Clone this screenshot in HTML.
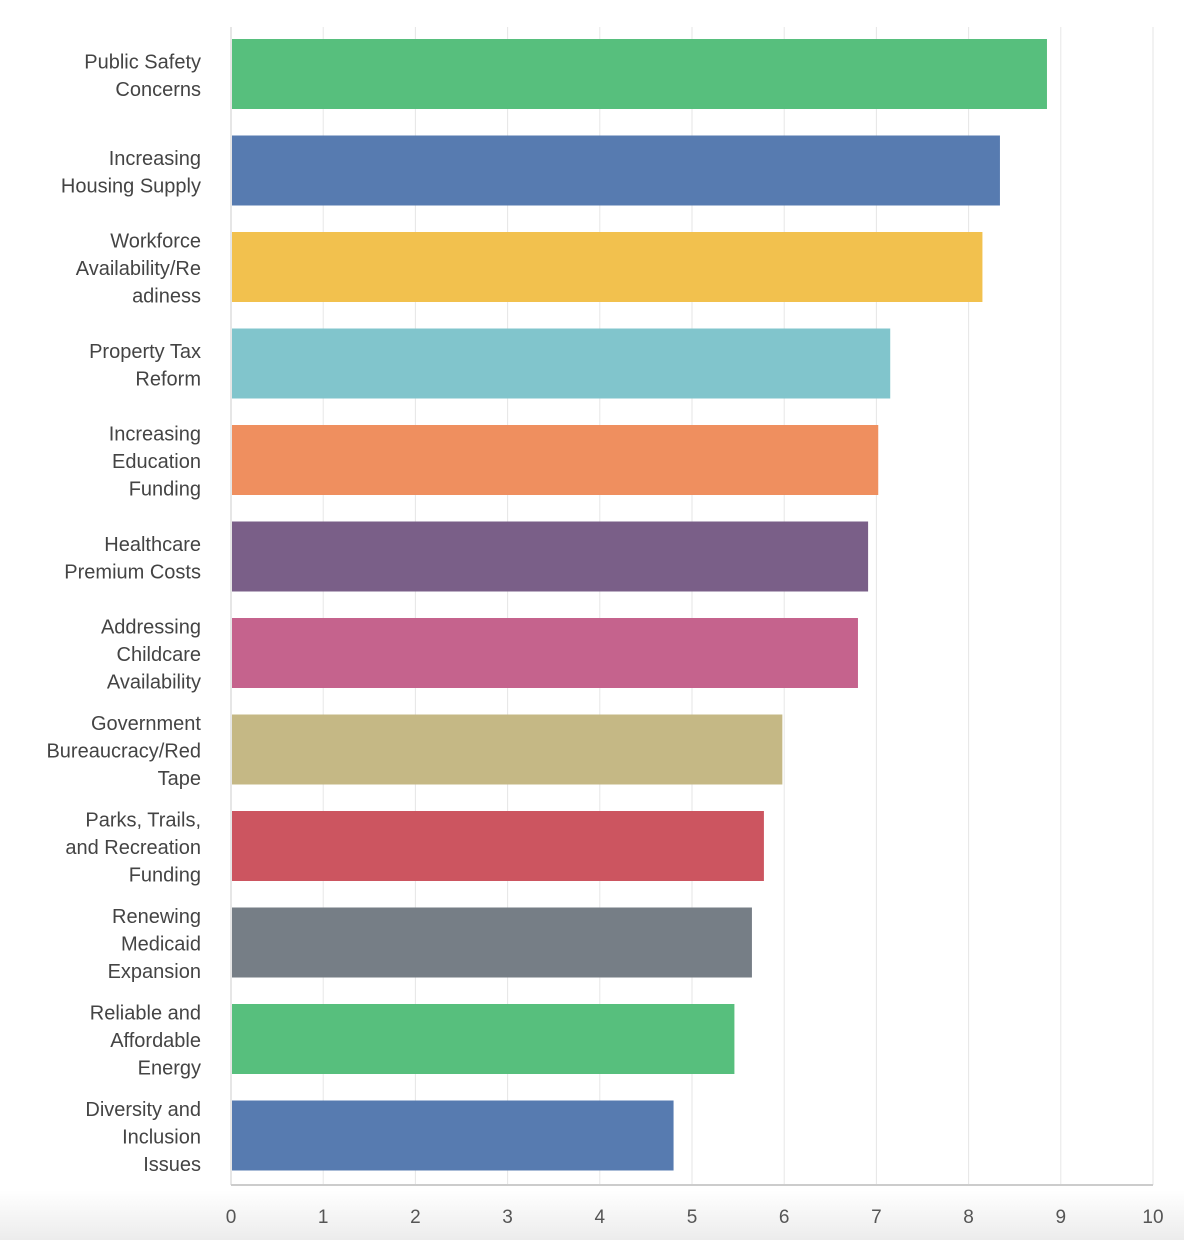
<!DOCTYPE html>
<html><head><meta charset="utf-8"><style>
html,body{margin:0;padding:0;}
body{width:1184px;height:1240px;position:relative;overflow:hidden;background:linear-gradient(to bottom,#fff 0,#fff 1190px,#ececec 1240px);font-family:"Liberation Sans",sans-serif;}
svg{position:absolute;left:0;top:0;}
</style></head><body>
<svg id="chart" width="1184" height="1240"></svg>
<script>
const categories=[["Public Safety","Concerns"],["Increasing","Housing Supply"],["Workforce","Availability/Re","adiness"],["Property Tax","Reform"],["Increasing","Education","Funding"],["Healthcare","Premium Costs"],["Addressing","Childcare","Availability"],["Government","Bureaucracy/Red","Tape"],["Parks, Trails,","and Recreation","Funding"],["Renewing","Medicaid","Expansion"],["Reliable and","Affordable","Energy"],["Diversity and","Inclusion","Issues"]];
const values=[8.85,8.34,8.15,7.15,7.02,6.91,6.80,5.98,5.78,5.65,5.46,4.80];
const colors=["#57bf7d","#577bb0","#f2c14e","#81c5cc","#ef8f5f","#7a5f88","#c5638d","#c5b885","#cc5560","#767e86","#57bf7d","#577bb0"];
const ticks=[0,1,2,3,4,5,6,7,8,9,10];
const svg=document.getElementById('chart');
const NS="http://www.w3.org/2000/svg";
const x0=231,x1=1153,plotTop=27,plotBottom=1185;
const xs=v=>x0+(x1-x0)*v/10;
const band=(plotBottom-plotTop)/categories.length;
function mk(t,a){const e=document.createElementNS(NS,t);for(const k in a)e.setAttribute(k,a[k]);svg.appendChild(e);return e;}
ticks.forEach(t=>{
 const g=mk('line',{x1:xs(t),x2:xs(t),y1:plotTop,y2:plotBottom,stroke:t===0?'#ccc':'#e6e6e6','stroke-width':1});
 
 
 const l=mk('text',{x:xs(t),y:1223,'text-anchor':'middle','font-size':19,fill:'#555'});
 l.textContent=t;
 
 
});
const ax=mk('line',{x1:x0,x2:x1,y1:plotBottom,y2:plotBottom,stroke:'#ccc','stroke-width':2});


categories.forEach((c,i)=>{
 const y=plotTop+i*band+12;
 const r=mk('rect',{x:x0+1,y:y,width:xs(values[i])-x0-1,height:70,fill:colors[i]});
 
 
 const cy=y+35, lh=27.5;
 const st=cy-(c.length-1)*lh/2+8;
 c.forEach((line,j)=>{
  const t=mk('text',{x:201,y:st+j*lh,'text-anchor':'end','font-size':20,fill:'#444'});
  t.textContent=line;
  
  
 });
});
</script>
</body></html>
